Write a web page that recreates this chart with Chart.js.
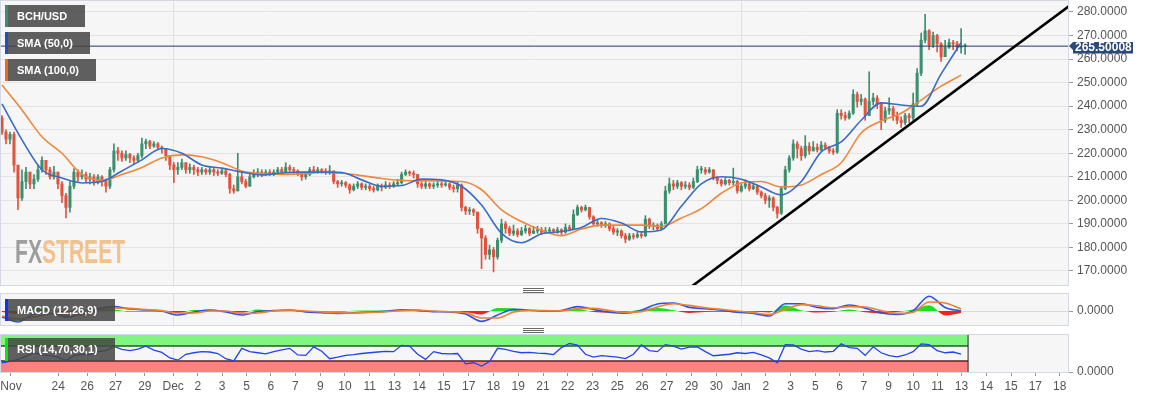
<!DOCTYPE html>
<html><head><meta charset="utf-8">
<script src="https://cdn.jsdelivr.net/npm/chart.js@4.4.1/dist/chart.umd.min.js"></script>
<style>
html,body{margin:0;padding:0;background:#fff;width:1153px;height:399px;overflow:hidden;font-family:"Liberation Sans",Arial,sans-serif;}
canvas{position:absolute;left:0;}
#cMain{top:0;} #cMacd{top:292px;} #cRsi{top:333px;}
.tag{position:absolute;left:5px;height:22px;background:rgba(70,70,70,0.86);color:#fff;font:bold 11px "Liberation Sans",Arial,sans-serif;line-height:22px;padding-left:12px;box-sizing:border-box;z-index:5;white-space:nowrap;}
.tag i{position:absolute;left:0;top:0;bottom:0;width:3px;}
.wm{position:absolute;left:15px;top:234px;font:bold 34px "Liberation Sans",Arial,sans-serif;line-height:34px;transform:scaleX(0.62);transform-origin:left top;z-index:2;white-space:nowrap;letter-spacing:0;}
.handle{position:absolute;left:523px;width:21px;height:5px;background:repeating-linear-gradient(#6a6a6a 0 1px,transparent 1px 2px);z-index:3;}
</style></head>
<body>
<canvas id="cMain" width="1153" height="286"></canvas>
<canvas id="cMacd" width="1153" height="36"></canvas>
<canvas id="cRsi" width="1153" height="66"></canvas>
<div class="tag" style="top:5px;width:80px"><i style="background:#3a8f6e"></i>BCH/USD</div>
<div class="tag" style="top:32px;width:85px"><i style="background:#1f4fc0"></i>SMA (50,0)</div>
<div class="tag" style="top:59px;width:91px"><i style="background:#f06a1a"></i>SMA (100,0)</div>
<div class="tag" style="top:299px;width:110px"><i style="background:#1030ff"></i>MACD (12,26,9)</div>
<div class="tag" style="top:338px;width:110px;height:23px;line-height:23px"><i style="background:#18e018"></i>RSI (14,70,30,1)</div>
<div class="wm"><span style="color:#9d9d9d">FX</span><span style="color:#f3c18b">STREET</span></div>
<div class="handle" style="top:288px"></div>
<div class="handle" style="top:328px"></div>
<script>
// ---------- DATA ----------
const Y_TICKS = [170,180,190,200,210,220,230,240,250,260,270,280];
const X_TICK_LABELS = ['Nov','24','26','27','29','Dec','2','3','5','6','7','9','10','11','13','14','15','17','18','19','21','22','23','25','26','27','29','30','Jan','2','3','5','6','7','9','10','11','13','14','15','17','18'];
// position of each date label on the candle-index axis
const X_TICK_POS = [2.25,14.08,21.33,28.43,35.75,42.83,49,55.08,61.18,67.25,73.43,79.63,85.83,92,98.2,104.4,110.6,116.8,123,129.18,135.38,141.58,147.78,153.98,160.18,166.35,172.55,178.75,184.95,191.15,197.33,203.5,209.58,215.68,221.83,228,234.08,240.08,246.33,252.5,258.58,264.68];
const MONTH_LABELS = ['Dec','Jan'];

const FIRST_OPEN = 235;
const CLOSE = [229,226,228,215,201,208,212,207,209,213,
217,213,210,212,207,202,197,206,212,210,
211,209,210,208,210,208,206,213,221,220,
218,219.5,218,217,219,224,225,223,224,222.5,
222,219,215,213,214,216,213,214,213,212,
213,212,213,212,211.5,212.5,211,205,204,210,
208,206,210,211,212,211,212,211.5,212,213,
212,214,213,212.5,211.5,210,211,213,212.5,213,
212.5,212,212.5,208,207,207.5,206.5,204.5,206,207,
205.5,206,205,204.5,206,205.5,206.5,206,207,207.5,
211,212,211.5,211,207,206,207,206,206.5,207,
206.5,207,205.5,205,206.5,197,195.5,196,195,188,
184,177,179,176,183,190,188,186,187,185.5,
187,188,186,187,187.5,186.5,187,187.5,187,187.5,
186.5,188.5,188,194,197,196,197,193,190,190.5,
189.5,190,188,186.5,187,185,183.5,185,184.5,185.5,
185,192,189,189.5,188,190,204,207,206,207.5,
206,206.5,205.5,208,213,213,212,213,209.5,208.5,
207,208.5,207.5,208,204,206,207,205,206,203.5,
202,200,201,197,194.5,205,213,218,224,222,
219,223,221,222.5,221.5,223.5,222.5,221,220.5,237,
236,235,237,245,242,243,236,242,243.5,241,
234,238,239,236,234,233,236,235,241,254,
268,272,266,270,266.5,261,265,267,266.5,265,
265.5,265.5];
const HIGH = [236,230,229,229,214,213,214,212,211,215,
218.5,217,214,214.5,212,208,203,208,213.5,213,
213,212,211.5,211,211,210.5,209,214,224,222.5,
221,221,220,219,220,226.5,226,225.5,225,224.5,
223,222,219,216,216,217.5,216,215.5,215,214,
214,213.5,214,214,213,213.5,213,211.5,206.5,220,
212,209,211,213,213.5,213,213,213,213,214,
214,216,215,214,213,212,212,214,214.5,214,
213.5,213.5,214.8,212.5,208.5,208.5,208,207,207,208,
207.5,207,207,206,207,207,208,207.5,208,209,
212,213,212.5,212.5,211,208,208,207.5,207.5,208,
208,208.5,207.5,206.5,208,207,197.5,197,196.5,195,
188,185,181,180,184,192,191,189,189.5,188,
188.5,189.5,188.5,189,189,188.5,188.5,188.5,188,188.5,
188,190,189.5,196,198,197.5,198,197,193.5,191.5,
191,191,190.5,189,188,187.5,186,186,186,186.5,
186.5,193.5,192.5,190.5,190,191,206,209.5,208.5,208.5,
208,208,207.5,209.5,214.5,214.5,214,214,213,210,
209,209.5,209,213.7,208.5,207,208.7,207.5,207.5,206.5,
204,203,202,201.5,197.5,206,214.5,219,225.7,225,
223,227.5,224.5,225,224,225,224.5,223,222,238.5,
238.5,237.5,238,247,246,245,243.5,254.6,245.5,244.5,
241.5,239.5,243.5,240,237.5,235.5,237,237,245.6,256,
271,279,272.5,271.5,270.5,267,268,268.5,268,267.5,
273,266.5];
const LOW = [228,224,224,212,196,200,205,205,205,208,
212,211,209,209,205,199,192.5,195,205,208,
209,207.5,207,206.5,207,206,203.5,205,212,217,
216.5,217,216,215.5,216,218,222,222,222.5,221.5,
220,217,213,207.5,211,213,211.5,211.5,211,210.5,
211,211,211,210.5,210.5,211,210,203,203,204,
207,205.3,206,209.5,210,210,210.5,210.5,210.5,211,
211,212,212,211.5,210.5,208.5,209,210.5,211.5,211.5,
211.5,211,211,207,205.5,206,205.5,203,204,205,
204.5,204.5,204,203.5,204,204,205,205,205.5,206.5,
207,210.5,210.5,209.5,205.5,205,205,205,205,205.5,
205.5,206,204.5,203.5,203.5,195.5,194,194,193.5,186,
171,175,175,169.6,175,182,186,185,185,184.5,
185,186,185,186,186,185.5,186,186.5,186,186,
185.5,186,187,188,193.5,195,195.5,192,189.5,189,
188.5,188.5,187,185.5,185,184,182,183,183.5,184,
184,184.5,188,187.5,187,187.5,190,203,204.5,205,
204.5,205,204.5,205,207.5,211.5,211,211.5,208.7,207,
206,206.5,206.5,206.5,203,203.5,205,204,204.5,202.5,
201,198.5,197,195.5,192.5,194,204.5,212,217,218,
217,218,219.5,221,220.5,221,221.5,220,219.5,220,
234.5,234,234.5,236.5,239.6,240.5,234,236,240.5,239,
230,233,236.5,234,232.5,231,232,233,234,240,
253,267,264,265,263,259,263.5,264.5,264,263.5,
262.5,262];

// moving averages, one reading every SMA_STEP candles
const SMA_STEP = 5;
const SMA50 = [241,225.7,213,209.5,207.4,208,212.5,217.2,222,220,
215,213.7,212,210.8,211.6,212,212,211.8,208.7,206,
206.3,209,208.7,206,198,186,182,185.8,186.8,188.5,
192.3,190.4,186.6,187.4,197.5,207,210,209,205.7,202.3,
208,220.6,224.8,234,241.4,240.5,240,253.7,267];
const SMA100 = [249,238.4,227,220,211,208.5,211,214,218,219.3,
218.5,216,212.5,211.4,211,211.2,212,211.5,210.5,209.3,
208.5,208.3,208.2,208,204.5,196,191,187.3,185,187.8,
189.5,189.5,189.5,189,192.5,196.5,203,207.4,208,205.7,
206.5,211,216,228.6,233.7,237,242.6,248.5,253.2];

const LAST_PRICE = 265.50008;
const TREND = [[172,162.7],[268,283.7]];

// MACD, one reading every MACD_STEP candles
const MACD_STEP = 4;
const MACD = [-3,-5.5,-1.5,-1,-3,-1.5,1,2.2,1,0.5,
0,-2,-0.5,0.5,-0.5,-2,-0.3,0.2,0.5,-0.5,
-0.8,-1.2,-0.9,-0.5,-0.2,0.6,0.3,-0.3,-0.5,-1.5,
-5.2,-2,0.8,0.4,0,0.2,2.2,0.8,-0.6,-1.1,
0.4,3.5,4,1.8,1.1,0.4,-0.6,-1.2,-2.5,3.6,
3.6,1.8,1.2,3,1.4,-1,-1.7,0.2,7.4,1.8,0];
const SIGNAL = [-2.5,-4,-3,-1.5,-2,-2,0,1.5,1.3,0.7,
0.2,-1,-1,0,0,-1.2,-1,0,0.3,0,
-0.5,-0.9,-1,-0.7,-0.4,0.2,0.4,0,-0.4,-0.9,
-3.5,-3.5,-0.5,0.3,0.2,0.1,1.2,1.3,0.2,-0.7,
-0.3,2,3.6,2.8,1.6,0.8,0,-0.8,-1.8,0.8,
3.2,2.6,1.6,2.2,2,0.2,-1.2,-0.6,4.5,4,1];
const HIST = [-0.5,-1.5,1.5,0.5,-1,0.5,1,0.7,-0.3,-0.2,
-0.2,-1,0.5,0.5,-0.5,-0.8,0.7,0.2,0.2,-0.5,
-0.3,-0.3,0.1,0.2,0.2,0.4,-0.1,-0.3,-0.1,-0.6,
-1.7,1.5,1.3,0.1,-0.2,0.1,1,-0.5,-0.8,-0.4,
0.7,1.5,0.4,-1,-0.5,-0.4,-0.6,-0.4,-0.7,2.8,
0.4,-0.8,-0.4,0.8,-0.6,-1.2,-0.5,0.8,2.9,-2.2,-1];

// RSI, one reading every RSI_STEP candles
const RSI_STEP = 2;
const RSI = [25,29,34,42,52,47,44,40,31,44,
48,47,55,58,69,61,58,62,70,59,
53,38,32,48,52,55,54,50,36,30,
64,55,52,49,55,60,64,46,45,68,
56,36,40,45,47,50,52,54,56,55,
72,70,48,34,55,50,49,50,22,25,
16,28,64,61,56,52,53,51,50,47,
66,77,73,48,40,44,42,40,36,48,
73,58,55,74,70,62,67,68,55,44,
46,48,52,50,53,46,38,25,74,73,
62,55,58,54,56,76,66,64,45,68,
52,44,41,46,55,76,74,58,52,54,48];
const RSI_UPPER = 70, RSI_LOWER = 30;

// ---------- CHARTS ----------
const FONT = '"Liberation Sans", Arial, sans-serif';
const UP = '#3a8f6e', DOWN = '#e0533e';
const X_MIN = -0.25, X_MAX = 266.75;

const OPEN = CLOSE.map((c,i)=> i===0 ? FIRST_OPEN : CLOSE[i-1]);
const COLORS = CLOSE.map((c,i)=> c>=OPEN[i] ? UP : DOWN);
const lastIdx = CLOSE.length - 1;

function xScale(showLabels){
  return {
    type:'linear', min:X_MIN, max:X_MAX, offset:false,
    afterBuildTicks(s){ s.ticks = X_TICK_POS.map(v=>({value:v})); },
    ticks:{display:showLabels, autoSkip:false, maxRotation:0, minRotation:0, padding:3, color:'#555',
      font:{family:FONT,size:12}, callback:(v,i)=>X_TICK_LABELS[i]},
    grid:{offset:false, drawTicks:showLabels, tickLength:4, tickColor:'#9a9a9a', lineWidth:1,
      color:(c)=> (c.index!==undefined && MONTH_LABELS.includes(X_TICK_LABELS[c.index])) ? '#e0e0e0' : 'rgba(0,0,0,0)'},
    border:{display:false},
    afterFit(s){ s.paddingLeft=0; s.paddingRight=0; s.height = showLabels ? 27 : 0; }
  };
}
function yScale(min,max,ticks,gridColor){
  return {
    type:'linear', position:'right', min:min, max:max,
    afterBuildTicks(s){ s.ticks = ticks.map(v=>({value:v})); },
    ticks:{color:'#555', font:{family:FONT,size:12}, padding:4, callback:v=>Number(v).toFixed(4)},
    grid:{color:gridColor, tickColor:'#9a9a9a', tickLength:5, drawTicks:true, lineWidth:1},
    border:{display:false},
    afterFit(s){ s.width=85; s.paddingTop=0; s.paddingBottom=0; }
  };
}
const panelPlugin = {
  id:'panel',
  beforeDraw(c){ const a=c.chartArea,g=c.ctx; g.save(); g.fillStyle='#f6f6f6';
    g.fillRect(a.left,a.top,a.right-a.left,a.bottom-a.top); g.restore(); },
  afterDraw(c){ const a=c.chartArea,g=c.ctx; g.save(); g.strokeStyle='#d3d8e3'; g.lineWidth=1;
    g.strokeRect(Math.round(a.left)-0.5,Math.round(a.top)-0.5,Math.round(a.right-a.left)+1,Math.round(a.bottom-a.top)+1); g.restore(); }
};
const priceTag = {
  id:'priceTag',
  afterDraw(c){
    const a=c.chartArea,g=c.ctx; const y=Math.round(c.scales.y.getPixelForValue(LAST_PRICE)); const x0=a.right;
    g.save(); g.fillStyle='#2b4a76';
    g.beginPath(); g.moveTo(x0+1,y); g.lineTo(x0+5,y-4); g.lineTo(x0+65,y-4); g.lineTo(x0+65,y+7.5); g.lineTo(x0+5,y+7.5); g.lineTo(x0+5,y+4); g.closePath(); g.fill();
    g.fillStyle='#fff'; g.font='bold 12px '+FONT; g.textBaseline='middle'; g.textAlign='left';
    g.fillText(LAST_PRICE.toFixed(5), x0+7, y+2);
    g.restore();
  }
};
const base = {animation:false, responsive:false, maintainAspectRatio:false, events:[],
  plugins:{legend:{display:false}, tooltip:{enabled:false}}};

new Chart(document.getElementById('cMain'), {
  type:'bar',
  data:{datasets:[
    {type:'line', data:TREND.map(p=>({x:p[0],y:p[1]})), borderColor:'#000', borderWidth:2.6, pointRadius:0},
    {type:'line', data:[{x:X_MIN,y:LAST_PRICE},{x:X_MAX,y:LAST_PRICE}], borderColor:'#1e3a66', borderWidth:1, pointRadius:0},
    {type:'line', data:SMA50.map((v,k)=>({x:k*SMA_STEP,y:v})), borderColor:'#3a6cc6', borderWidth:1.6, pointRadius:0, cubicInterpolationMode:'monotone'},
    {type:'line', data:SMA100.map((v,k)=>({x:k*SMA_STEP,y:v})), borderColor:'#f0873a', borderWidth:1.6, pointRadius:0, cubicInterpolationMode:'monotone'},
    {type:'bar', data:CLOSE.map((c,i)=>({x:i,y:[OPEN[i],c]})), backgroundColor:COLORS, barThickness:2.4, minBarLength:1, grouped:false},
    {type:'bar', data:CLOSE.map((c,i)=>({x:i,y:[LOW[i],HIGH[i]]})), backgroundColor:COLORS, barThickness:1, grouped:false}
  ]},
  options:Object.assign({}, base, {
    layout:{padding:{top:1,bottom:1,left:1,right:0}},
    scales:{ x:xScale(false), y:yScale(164.05,284.67,Y_TICKS,'#e3e3e3') }
  }),
  plugins:[panelPlugin, priceTag]
});

new Chart(document.getElementById('cMacd'), {
  type:'line',
  data:{datasets:[
    {data:SIGNAL.map((v,k)=>({x:k*MACD_STEP,y:v})), borderColor:'#f07f30', borderWidth:1.6, pointRadius:0, cubicInterpolationMode:'monotone'},
    {data:MACD.map((v,k)=>({x:k*MACD_STEP,y:v})), borderColor:'#3050e8', borderWidth:1.6, pointRadius:0, cubicInterpolationMode:'monotone'},
    {data:HIST.map((v,k)=>({x:k*MACD_STEP,y:v})), borderWidth:0, borderColor:'rgba(0,0,0,0)', pointRadius:0, cubicInterpolationMode:'monotone',
      fill:{target:'origin', above:'#20dd20', below:'#ff1e1e'}}
  ]},
  options:Object.assign({}, base, {
    layout:{padding:{top:2,bottom:3,left:1,right:0}},
    scales:{ x:xScale(false), y:yScale(-7,8.5,[0],'#d9d9d9') }
  }),
  plugins:[panelPlugin]
});

const bandEnd = lastIdx + 0.75;
new Chart(document.getElementById('cRsi'), {
  type:'line',
  data:{datasets:[
    {data:RSI.map((v,k)=>({x:k*RSI_STEP,y:v})), borderColor:'#2244ee', borderWidth:1.3, pointRadius:0},
    {data:[{x:bandEnd,y:0},{x:bandEnd,y:100}], borderColor:'#222', borderWidth:1, pointRadius:0},
    {data:[{x:X_MIN,y:RSI_UPPER},{x:bandEnd,y:RSI_UPPER}], borderColor:'#1f5e1f', borderWidth:1.5, pointRadius:0,
      fill:{value:100}, backgroundColor:'#80f57f'},
    {data:[{x:X_MIN,y:RSI_LOWER},{x:bandEnd,y:RSI_LOWER}], borderColor:'#5e2020', borderWidth:1.5, pointRadius:0,
      fill:{value:0}, backgroundColor:'#ff8080'}
  ]},
  options:Object.assign({}, base, {
    layout:{padding:{top:2,bottom:0,left:1,right:0}},
    scales:{ x:xScale(true), y:yScale(0,100,[0],'rgba(0,0,0,0)') }
  }),
  plugins:[panelPlugin]
});
</script>
</body></html>
